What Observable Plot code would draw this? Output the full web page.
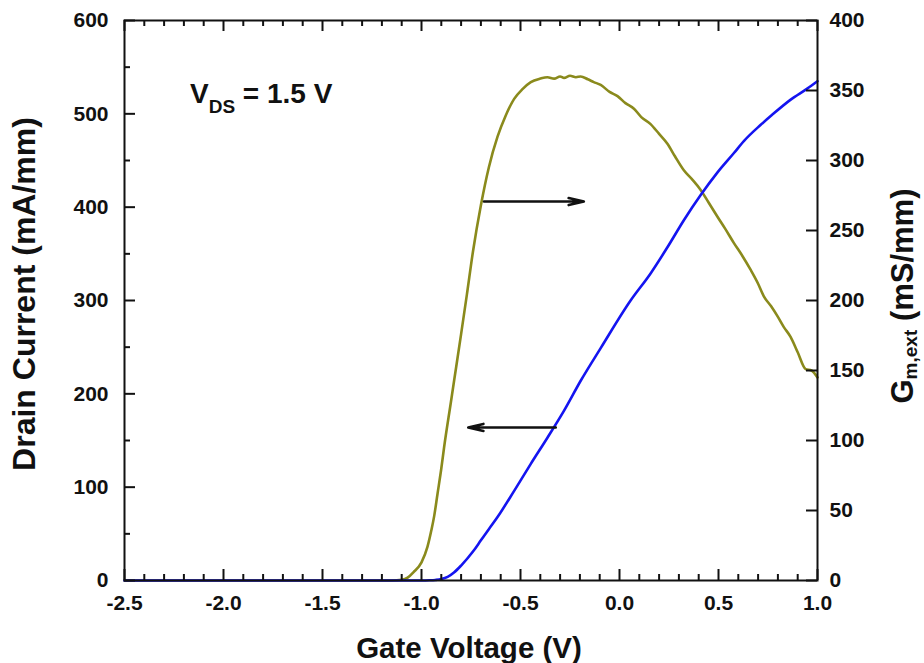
<!DOCTYPE html>
<html><head><meta charset="utf-8">
<script src="https://cdn.jsdelivr.net/npm/d3@7"></script>
<script src="https://cdn.jsdelivr.net/npm/@observablehq/plot@0.6"></script>
<style>html,body{margin:0;padding:0;background:#fff} svg{display:block}</style>
</head><body><div id="chart"></div>
<script>
// Drain current (left axis, mA/mm) vs gate voltage
const vgId = [-2.5,-1.5,-1.0,-0.96,-0.93,-0.90,-0.868,-0.836,-0.80,-0.74,-0.70,-0.66,-0.616,-0.532,-0.448,-0.364,-0.28,-0.196,-0.095,0.056,0.157,0.242,0.325,0.41,0.494,0.578,0.629,0.712,0.771,0.863,0.948,1.0];
const drainI = [0,0,0,0.2,0.6,1.5,3.8,8.5,16,31,43,55,68,96,125,153,182,214,249,300,329,357,386,413,437,458,471,488,499,515,527,535];
// Extrinsic transconductance (right axis, mS/mm) vs gate voltage
const vgGm = [-2.5,-1.5,-1.15,-1.10,-1.07,-1.04,-1.00,-0.97,-0.95,-0.936,-0.919,-0.90,-0.886,-0.852,-0.835,-0.80,-0.771,-0.74,-0.70,-0.66,-0.616,-0.575,-0.532,-0.49,-0.448,-0.40,-0.364,-0.33,-0.30,-0.28,-0.25,-0.22,-0.196,-0.16,-0.13,-0.095,-0.05,-0.01,0.03,0.073,0.11,0.157,0.20,0.242,0.28,0.325,0.37,0.41,0.45,0.494,0.535,0.578,0.62,0.662,0.70,0.729,0.765,0.797,0.83,0.864,0.90,0.94,0.97,1.0];
const gmExt = [0,0,0,0.5,2,6,13,24,36,46,62,80,95,127,143,176,204,235,268,295,317,332,344,351,356,358.5,359.5,358.5,360,359,360.5,359.5,360,358,356,354,349,346,341,337,331,326,319,312,303,293,286,279,270,260,251,241,232,222,212,203,196,189,181,174,163,151,150,145];
// ticks
const xMajor = [-2.5,-2.0,-1.5,-1.0,-0.5,0.0,0.5,1.0];
const xMinor = [-2.4,-2.3,-2.2,-2.1,-1.9,-1.8,-1.7,-1.6,-1.4,-1.3,-1.2,-1.1,-0.9,-0.8,-0.7,-0.6,-0.4,-0.3,-0.2,-0.1,0.1,0.2,0.3,0.4,0.6,0.7,0.8,0.9];
const yLeftMajor = [0,100,200,300,400,500,600];
const yLeftMinor = [50,150,250,350,450,550];
const yRightMajor = [0,50,100,150,200,250,300,350,400];
// annotation arrows (gate voltage from -> to, level in mA/mm)
const arrowFrom = [-0.684,-0.322];
const arrowTo = [-0.18,-0.764];
const arrowLevel = [406,164];

const xDomain = [-2.5, 1.0];
const rightMax = 400, leftMax = 600, k = leftMax / rightMax;
const W = 924, H = 663, mT = 20, mB = 83, mL = 124, mR = 107;
const pw = W - mL - mR, ph = H - mT - mB;
const yPx = leftMax / ph, xPx = (xDomain[1] - xDomain[0]) / pw;
const majLen = 11, minLen = 6;

const idData = vgId.map((v,i)=>({v, val: drainI[i]}));
const gmData = vgGm.map((v,i)=>({v, val: gmExt[i] * k}));
const arrows = arrowFrom.map((a,i)=>({x1:a, x2:arrowTo[i], y:arrowLevel[i]}));
const rightTicks = yRightMajor.map(d=>d*k);

const ts = {stroke:"#111", strokeWidth:2};
const plot = Plot.plot({
  width: W, height: H, marginTop: mT, marginBottom: mB, marginLeft: mL, marginRight: mR,
  style: {fontFamily: "'Liberation Sans', Arial, sans-serif", fontSize: "21px", fontWeight: "bold", color: "#111", background: "#fff"},
  x: {domain: xDomain},
  y: {domain: [0, leftMax]},
  marks: [
    Plot.line(gmData, {x:"v", y:"val", stroke:"#8a8a1c", strokeWidth:2.6, curve:"monotone-x"}),
    Plot.line(idData, {x:"v", y:"val", stroke:"#1414f0", strokeWidth:2.6, curve:"monotone-x"}),
    Plot.arrow(arrows, {x1:"x1", x2:"x2", y1:"y", y2:"y", stroke:"#111", strokeWidth:2.6, headLength:9, headAngle:26}),
    // inward ticks: bottom, top, left, right
    Plot.ruleX(xMajor, {x:d=>d, y1:0, y2:majLen*yPx, ...ts}),
    Plot.ruleX(xMinor, {x:d=>d, y1:0, y2:minLen*yPx, ...ts}),
    Plot.ruleX(xMajor, {x:d=>d, y1:leftMax-majLen*yPx, y2:leftMax, ...ts}),
    Plot.ruleX(xMinor, {x:d=>d, y1:leftMax-minLen*yPx, y2:leftMax, ...ts}),
    Plot.ruleY(yLeftMajor, {y:d=>d, x1:xDomain[0], x2:xDomain[0]+majLen*xPx, ...ts}),
    Plot.ruleY(yLeftMinor, {y:d=>d, x1:xDomain[0], x2:xDomain[0]+minLen*xPx, ...ts}),
    Plot.ruleY(rightTicks, {y:d=>d, x1:xDomain[1]-majLen*xPx, x2:xDomain[1], ...ts}),
    Plot.axisX(xMajor, {tickSize:0, tickPadding:15, tickFormat:d=>d.toFixed(1), label:null}),
    Plot.axisY(yLeftMajor, {anchor:"left", tickSize:0, tickPadding:16, label:null}),
    Plot.axisY(rightTicks, {anchor:"right", tickSize:0, tickPadding:12, tickFormat:d=>String(Math.round(d/k)), label:null}),
    Plot.frame({stroke:"#111", strokeWidth:2})
  ]
});
document.getElementById("chart").appendChild(plot);

const svg = d3.select(plot);
const font = "'Liberation Sans', Arial, sans-serif";
// x title
svg.append("text").attr("x", 469).attr("y", 658).attr("text-anchor","middle")
  .attr("font-family", font).attr("font-size", 29.5).attr("font-weight","bold").attr("fill","#111")
  .text("Gate Voltage (V)");
// left title
svg.append("text").attr("transform","translate(35,294) rotate(-90)").attr("text-anchor","middle")
  .attr("font-family", font).attr("font-size", 32).attr("font-weight","bold").attr("fill","#111")
  .text("Drain Current (mA/mm)");
// right title
const rt = svg.append("text").attr("transform","translate(913,296) rotate(-90)").attr("text-anchor","middle")
  .attr("font-family", font).attr("font-size", 31).attr("font-weight","bold").attr("fill","#111");
rt.append("tspan").text("G");
rt.append("tspan").attr("font-size", 19).attr("dy", 4).text("m,ext");
rt.append("tspan").attr("dy", -4).text(" (mS/mm)");
// VDS annotation
const vt = svg.append("text").attr("x", 190).attr("y", 103).attr("text-anchor","start")
  .attr("font-family", font).attr("font-size", 28).attr("font-weight","bold").attr("fill","#111");
vt.append("tspan").text("V");
vt.append("tspan").attr("font-size", 19).attr("dy", 10).text("DS");
vt.append("tspan").attr("dy", -10).text(" = 1.5 V");
</script>
</body></html>
